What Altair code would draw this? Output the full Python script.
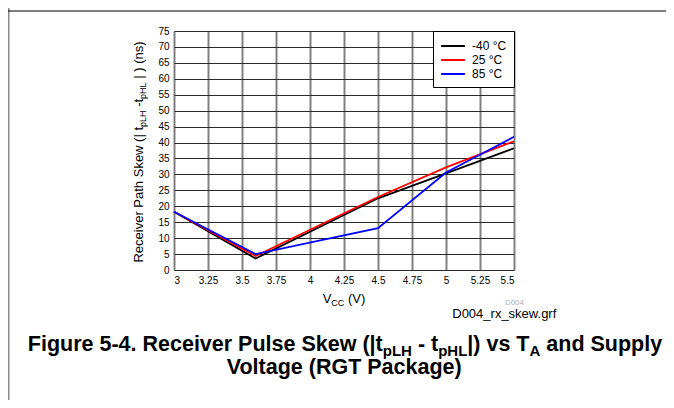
import altair as alt
import pandas as pd

# ---------------- data ----------------
vcc = [3.0, 3.6, 4.5, 5.0, 5.5]
series_names = ["-40 °C", "25 °C", "85 °C"]
skew_m40 = [18.3, 3.6, 22.5, 30.3, 38.2]
skew_25 = [18.3, 4.4, 22.9, 32.2, 40.4]
skew_85 = [18.3, 5.0, 13.1, 30.6, 41.8]
series_colors = ["#000000", "#ff0000", "#0000ff"]
x_ticks = [3, 3.25, 3.5, 3.75, 4, 4.25, 4.5, 4.75, 5, 5.25, 5.5]
y_ticks = list(range(0, 80, 5))

rows = []
for k, (name, vals) in enumerate(zip(series_names, [skew_m40, skew_25, skew_85])):
    for v, s in zip(vcc, vals):
        rows.append({"vcc": v, "skew": s, "series": name, "k": k})
df = pd.DataFrame(rows)

FONT = "Liberation Sans"

# ---------------- layout helpers (text metrics, Arial-compatible) ----------------
REG = {' ': 278, '(': 333, ')': 333, '-': 333, '.': 278, '|': 260, '_': 556,
       'A': 667, 'C': 722, 'D': 722, 'H': 722, 'L': 556, 'P': 667, 'R': 722,
       'S': 667, 'V': 667, 'a': 556, 'c': 500, 'e': 556, 'f': 278, 'g': 556,
       'h': 556, 'i': 222, 'k': 500, 'n': 556, 'p': 556, 'r': 333, 's': 500,
       't': 278, 'v': 500, 'w': 722, 'x': 500}
BOLD = {' ': 278, '(': 333, ')': 333, '-': 333, '.': 278, '|': 280,
        'A': 722, 'F': 611, 'G': 778, 'H': 722, 'L': 611, 'P': 667, 'R': 722,
        'S': 667, 'T': 611, 'V': 667, 'a': 556, 'c': 556, 'd': 611, 'e': 556,
        'g': 611, 'i': 278, 'k': 556, 'l': 278, 'n': 611, 'o': 611, 'p': 611,
        'r': 389, 's': 556, 't': 333, 'u': 611, 'v': 556, 'w': 778, 'y': 556}


def tw(s, size, table):
    return sum(table.get(c, 556) for c in s) * size / 1000.0


OX, OY = 174, 31  # plot origin on the page


def run(segments, size, sub_size, sub_shift, table):
    """Place text pieces one after another; leading spaces become offsets."""
    out, pos = [], 0.0
    for txt, sub in segments:
        sz = sub_size if sub else size
        stripped = txt.lstrip(" ")
        lead = tw(txt[: len(txt) - len(stripped)], sz, table)
        out.append((pos + lead, stripped.rstrip(" "), sz, sub_shift if sub else 0.0))
        pos += tw(txt, sz, table)
    return out, pos


bold_rows, reg_rows = [], []

# caption line 1
cap1 = [("Figure 5-4. Receiver Pulse Skew (|t", False), ("pLH", True), (" - t", False),
        ("pHL", True), ("|) vs T", False), ("A", True), (" and Supply", False)]
segs, L = run(cap1, 21.5, 15, 4.5, BOLD)
x0 = 345 - L / 2
for d, t, s, sh in segs:
    bold_rows.append({"px": x0 + d - OX, "py": 351 + sh - OY, "txt": t, "sz": s, "ang": 0})
# caption line 2
cap2 = [("Voltage (RGT Package)", False)]
segs, L = run(cap2, 21.5, 15, 4.5, BOLD)
x0 = 345 - L / 2
for d, t, s, sh in segs:
    bold_rows.append({"px": x0 + d - OX, "py": 374 + sh - OY, "txt": t, "sz": s, "ang": 0})

# y axis title (rotated)
ytit = [("Receiver Path Skew (| t", False), ("pLH", True), (" -t", False),
        ("pHL", True), (" | ) (ns)", False)]
segs, L = run(ytit, 13, 9, 3, REG)
y0 = 152 + L / 2
for d, t, s, sh in segs:
    reg_rows.append({"px": 142.5 + sh - OX, "py": y0 - d - OY, "txt": t, "sz": s, "ang": 270})

# x axis title
xtit = [("V", False), ("CC", True), (" (V)", False)]
segs, L = run(xtit, 13, 9, 3, REG)
x0 = 344 - L / 2
for d, t, s, sh in segs:
    reg_rows.append({"px": x0 + d - OX, "py": 303 + sh - OY, "txt": t, "sz": s, "ang": 0})

# file name
fname = "D004_rx_skew.grf"
reg_rows.append({"px": 557 - tw(fname, 13, REG) - OX, "py": 318 - OY, "txt": fname, "sz": 13, "ang": 0})

bold_df = pd.DataFrame(bold_rows)
reg_df = pd.DataFrame(reg_rows)


def text_layer(data, weight):
    return alt.Chart(data).mark_text(font=FONT, fontWeight=weight, align="left",
                                     baseline="alphabetic", color="black").encode(
        x=alt.X("px:Q", scale=None),
        y=alt.Y("py:Q", scale=None),
        text="txt:N",
        size=alt.Size("sz:Q", scale=None),
        angle=alt.Angle("ang:Q", scale=None),
    )


tag = alt.Chart(pd.DataFrame([{"px": 524 - OX, "py": 305 - OY, "txt": "D004"}])).mark_text(
    font=FONT, fontSize=8, color="#b0b0b0", align="right", baseline="alphabetic").encode(
    x=alt.X("px:Q", scale=None), y=alt.Y("py:Q", scale=None), text="txt:N")

vline = alt.Chart(pd.DataFrame([{"a": 8.5 - OX, "b": 8 - OY, "c": 400 - OY}])).mark_rule(
    color="#8a8a8a", strokeWidth=2).encode(
    x=alt.X("a:Q", scale=None), y=alt.Y("b:Q", scale=None), y2="c:Q")
hline = alt.Chart(pd.DataFrame([{"a": 8 - OX, "b": 666 - OX, "c": 11 - OY}])).mark_rule(
    color="#000000", strokeWidth=1).encode(
    x=alt.X("a:Q", scale=None), x2="b:Q", y=alt.Y("c:Q", scale=None))

lines = alt.Chart(df).mark_line(strokeWidth=1.8).encode(
    x=alt.X("vcc:Q", scale=alt.Scale(domain=[3, 5.5], nice=False, zero=False),
            axis=alt.Axis(values=x_ticks, format=".4~g", title=None, ticks=False, domain=False,
                          labelPadding=5, gridColor="#808080", gridWidth=2)),
    y=alt.Y("skew:Q", scale=alt.Scale(domain=[0, 75], nice=False),
            axis=alt.Axis(values=y_ticks, title=None, ticks=False, domain=False,
                          labelPadding=5, gridColor="#2a2a2a", gridWidth=1.2)),
    color=alt.Color("series:N",
                    scale=alt.Scale(domain=series_names, range=series_colors),
                    sort=series_names,
                    legend=alt.Legend(title=None, orient="top-right", offset=0, padding=7,
                                      strokeColor="black", fillColor="white",
                                      symbolType="M-1.7,0H1.7", symbolSize=196,
                                      symbolStrokeWidth=2, symbolOffset=5, labelOffset=11,
                                      rowPadding=0, labelFontSize=12, labelFont=FONT,
                                      labelColor="black")),
    order=alt.Order("k:Q"),
)

chart = alt.layer(vline, hline, lines, text_layer(bold_df, "bold"), text_layer(reg_df, "normal"), tag).properties(
    width=340, height=239,
    autosize=alt.AutoSizeParams(type="none"),
    padding={"left": 166, "top": 23, "right": 152, "bottom": 130},
).configure_view(stroke="black", strokeWidth=2.5).configure_axis(
    labelFont=FONT, labelFontSize=12, labelColor="black"
).configure(background="white")

chart.save("out.html", embed_options={"renderer": "svg", "actions": False})
